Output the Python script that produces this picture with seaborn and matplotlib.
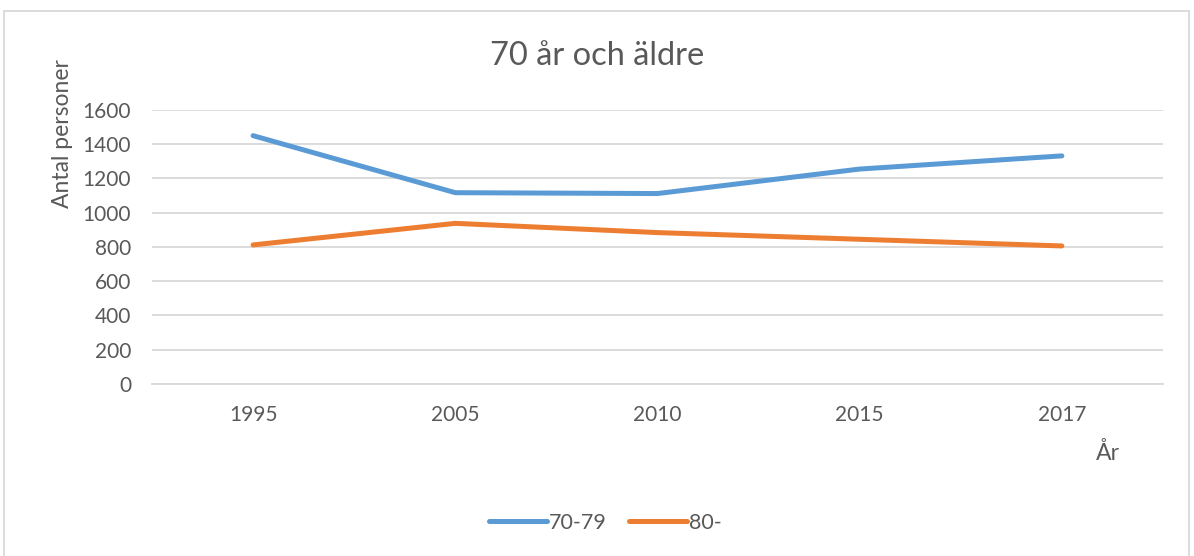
import numpy as np
import pandas as pd
import matplotlib.pyplot as plt
import matplotlib.patches as mpatches
import seaborn as sns

years = ['1995', '2005', '2010', '2015', '2017']
age_70_79 = [1450, 1117, 1112, 1255, 1332]
age_80 = [812, 938, 884, 845, 806]
series_names = ['70-79', '80-']

df = pd.DataFrame({
    'year': years * 2,
    'count': age_70_79 + age_80,
    'group': [series_names[0]] * len(years) + [series_names[1]] * len(years),
})

sns.set_theme(style='white')
plt.rcParams['font.family'] = ['Lato', 'DejaVu Sans']

text_col = '#595959'
grid_col = '#D9D9D9'
palette = {'70-79': '#5B9BD5', '80-': '#ED7D31'}

fig = plt.figure(figsize=(11.94, 5.56), dpi=100)
ax = fig.add_axes([0.1273, 0.3094, 0.8467, 0.4928])

sns.lineplot(data=df, x='year', y='count', hue='group', palette=palette,
             linewidth=3.6, sort=False, ax=ax, legend=False)
for line in ax.lines:
    line.set_solid_capstyle('round')

ax.set_xlim(-0.5, len(years) - 0.5)
ax.set_ylim(0, 1600)
ax.set_yticks(np.arange(0, 1601, 200))
ax.yaxis.grid(True, color=grid_col, linewidth=1.3)
ax.set_axisbelow(True)
for s in ['top', 'right', 'left']:
    ax.spines[s].set_visible(False)
ax.spines['bottom'].set_color(grid_col)
ax.spines['bottom'].set_linewidth(1.3)
ax.tick_params(axis='y', length=0, pad=15, labelsize=15, labelcolor=text_col)
ax.tick_params(axis='x', length=0, pad=15, labelsize=15, labelcolor=text_col)
ax.set_xlabel('')
ax.set_ylabel('')

fig.text(0.5, 0.90, '70 år och äldre', ha='center', va='center',
         fontsize=23.5, color=text_col)
fig.text(0.052, 0.76, 'Antal personer', rotation=90, ha='center', va='center',
         fontsize=16.5, color=text_col)
fig.text(0.918, 0.185, 'År', ha='left', va='center', fontsize=16.5, color=text_col)

handles = [plt.Line2D([], [], color=palette[n], linewidth=3.6, solid_capstyle='round')
           for n in series_names]
fig.legend(handles, series_names, loc='center', bbox_to_anchor=(0.507, 0.06),
           ncol=2, frameon=False, fontsize=15.5, handlelength=2.7,
           handletextpad=0.1, columnspacing=1.0, labelcolor=text_col)

border = mpatches.Rectangle((0.003, -0.01), 0.993, 0.99, transform=fig.transFigure,
                            fill=False, edgecolor=grid_col, linewidth=1.3)
fig.patches.append(border)

fig.savefig('out.png', dpi=100)
